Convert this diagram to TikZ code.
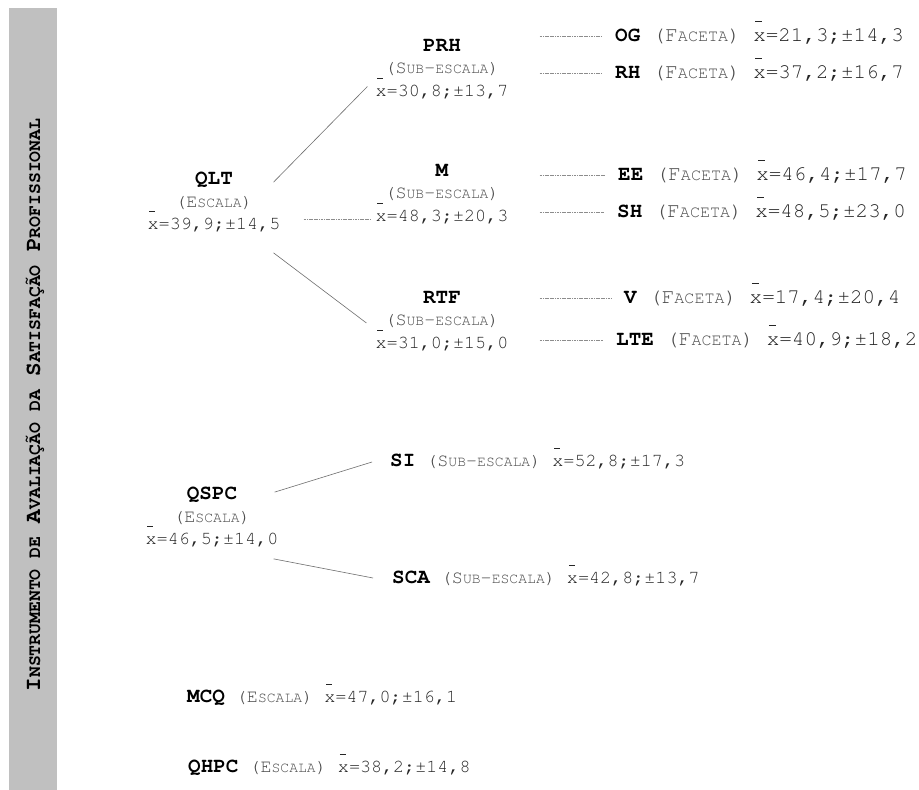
\documentclass[tikz,border=0pt]{standalone}
\usepackage[T1]{fontenc}
\usepackage{courier}
\renewcommand\familydefault{\ttdefault}

\definecolor{cinzabarra}{HTML}{C0C0C0}
\definecolor{cinzatexto}{HTML}{4A4A4A}
\definecolor{cinzavalor}{HTML}{262626}
\definecolor{cinzaramo}{HTML}{6E6E6E}
\definecolor{cinzatraco}{HTML}{8C8C8C}

% versaletes falsos (Courier nao tem)
\makeatletter
\newcommand\smc[1]{{\fontsize{\fpeval{0.8*\f@size}}{\f@baselineskip}\selectfont #1}}
\makeatother
\newcommand\lbl[1]{{\fontsize{21}{22.5}\selectfont\bfseries #1}}
\newcommand\xbar{\rlap{\hspace{0.1em}\smash{\raisebox{0.95em}{\rule{0.32em}{0.05em}}}}x}
\newcommand\esc{\textcolor{cinzatexto}{(E\smc{SCALA})}}
\newcommand\subesc{\textcolor{cinzatexto}{(S\smc{UB}-\smc{ESCALA})}}
\newcommand\fac{\textcolor{cinzatexto}{(F\smc{ACETA})}}
\newcommand\media[2]{\textcolor{cinzavalor}{\xbar=#1;\textpm#2}}

\begin{document}
\begin{tikzpicture}[x=1bp,y=-1bp,
    bloco/.style={align=center,inner sep=0pt,font=\fontsize{18.5}{22.5}\selectfont},
    linha/.style={anchor=west,inner sep=0pt,font=\fontsize{18.5}{22}\selectfont},
    faceta/.style={anchor=west,inner sep=0pt,font=\fontsize{21}{24}\selectfont},
    titulo/.style={rotate=90,inner sep=0pt,font=\fontsize{22.7}{28}\selectfont\bfseries},
    ramo/.style={draw=cinzaramo,line width=0.6bp},
    traco/.style={draw=cinzatraco,line width=0.7bp,dash pattern=on 1.2bp off 0.5bp}
]
\fill[white] (0,0) rectangle (919,790);
\useasboundingbox (0,0) rectangle (919,790);

% barra lateral
\fill[cinzabarra] (9,8) rectangle (57,790);
\node[titulo] (inst) at (35,405) {I\smc{NSTRUMENTO DE} A\smc{VALIA\c{C}\~AO DA} S\smc{ATISFA\c{C}\~AO} P\smc{ROFISSIONAL}};

% QLT e sub-escalas
\node[bloco] (QLT) at (214,202) {\lbl{QLT}\\\esc\\\media{39,9}{14,5}};
\node[bloco] (PRH) at (442,69) {\lbl{PRH}\\\subesc\\\media{30,8}{13,7}};
\node[bloco] (M) at (442,194) {\lbl{M}\\\subesc\\\media{48,3}{20,3}};
\node[bloco] (RTF) at (442,321) {\lbl{RTF}\\\subesc\\\media{31,0}{15,0}};

% facetas
\node[faceta] (OG) at (615,36) {\lbl{OG} \fac\ \media{21,3}{14,3}};
\node[faceta] (RH) at (615,73) {\lbl{RH} \fac\ \media{37,2}{16,7}};
\node[faceta] (EE) at (618,175) {\lbl{EE} \fac\ \media{46,4}{17,7}};
\node[faceta] (SH) at (617,212) {\lbl{SH} \fac\ \media{48,5}{23,0}};
\node[faceta] (V) at (624,298) {\lbl{V} \fac\ \media{17,4}{20,4}};
\node[faceta] (LTE) at (616,340) {\lbl{LTE} \fac\ \media{40,9}{18,2}};

% QSPC
\node[bloco] (QSPC) at (212,517) {\lbl{QSPC}\\\esc\\\media{46,5}{14,0}};
\node[linha] (SI) at (390,461) {\lbl{SI} \subesc\ \media{52,8}{17,3}};
\node[linha] (SCA) at (392,578) {\lbl{SCA} \subesc\ \media{42,8}{13,7}};

% escalas soltas
\node[linha] (MCQ) at (187,698) {\lbl{MCQ} \esc\ \media{47,0}{16,1}};
\node[linha] (QHPC) at (188,768) {\lbl{QHPC} \esc\ \media{38,2}{14,8}};

% ligacoes
\draw[ramo] ([shift={(-7,10)}]QLT.north east) -- ([shift={(-8,-12)}]PRH.south west);
\draw[traco] ([shift={(23,17)}]QLT.east) -- ([shift={(-5,25)}]M.west);
\draw[ramo] ([shift={(-7,21)}]QLT.south east) -- ([shift={(-9,2)}]RTF.west);
\foreach \s/\f in {PRH/OG,PRH/RH,M/EE,M/SH,RTF/V,RTF/LTE}
  \draw[traco,shorten <=31bp,shorten >=13bp] (\f.west -| \s.east) -- (\f.west);
\draw[ramo] ([shift={(-4,5)}]QSPC.north east) -- ([shift={(-18,1)}]SI.west);
\draw[ramo] ([shift={(-5,12)}]QSPC.south east) -- ([shift={(-19,0)}]SCA.west);
\end{tikzpicture}
\end{document}
